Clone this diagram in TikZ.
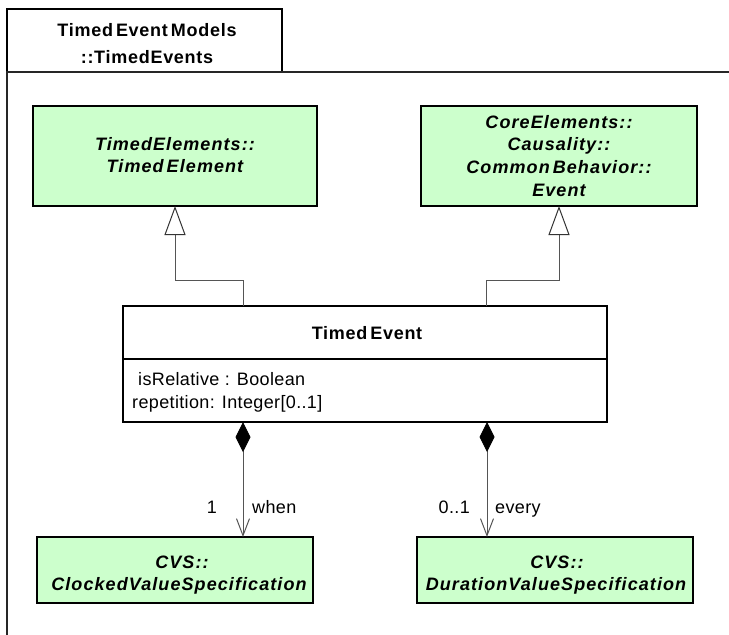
\documentclass[tikz,border=0pt]{standalone}
\usepackage{fontspec}
\setmainfont{Liberation Sans}[UprightFeatures={LetterSpace=2}, BoldFeatures={LetterSpace=4}, BoldItalicFeatures={LetterSpace=6}]
\usetikzlibrary{arrows.meta,calc}
\definecolor{umlgreen}{HTML}{CCFFCC}
\definecolor{conn}{HTML}{555555}
\begin{document}
\begin{tikzpicture}[x=1pt,y=-1pt,
  box/.style={draw=black, line width=1.2pt, inner sep=0pt, outer sep=0pt},
  clsbox/.style={box, fill=umlgreen},
  pkgline/.style={draw=black!85, line width=1.2pt},
  txt/.style={inner sep=0pt, font=\fontsize{18}{22}\selectfont},
  bi/.style={txt, font=\fontsize{18}{22}\selectfont\bfseries\itshape},
  bd/.style={txt, font=\fontsize{18}{22}\selectfont\bfseries},
  gen/.style={draw=conn, line width=1pt, -{Triangle[open, length=29pt, width=21pt, fill=white, color=black!80]}},
  comp/.style={draw=conn, line width=1pt, {Diamond[length=30pt, width=15pt, color=black, fill=black]}-{Straight Barb[length=17pt, width=13pt]}}
]
\useasboundingbox (0,0) rectangle (729,635);

% package frame
\node[box, fill=white, minimum width=275pt, minimum height=63pt] (tab) at (144.5,40.5) {};
\coordinate (pr) at (730,72);
\coordinate (pb) at (7,636);
\draw[pkgline] (pr) -- (tab.south west) -- (pb);
\node[bd, anchor=base] (tab1) at (147,36) {Timed\,Event\,Models};
\node[bd, anchor=base] (tab2) at (147,63) {::TimedEvents};

% classes
\node[clsbox, minimum width=284pt, minimum height=100pt] (te) at (175,156) {};
\node[bi, anchor=base] (te1) at (175,150) {TimedElements::};
\node[bi, anchor=base] (te2) at (175,172.5) {Timed\,Element};

\node[clsbox, minimum width=276pt, minimum height=100pt] (ev) at (559,156) {};
\node[bi, anchor=base] (ev1) at (559,128) {CoreElements::};
\node[bi, anchor=base] (ev2) at (559,150.5) {Causality::};
\node[bi, anchor=base] (ev3) at (559,173) {Common\,Behavior::};
\node[bi, anchor=base] (ev4) at (559,196.5) {Event};

\node[box, fill=white, minimum width=484pt, minimum height=116pt] (tev) at (365,364) {};
\draw[box] ([yshift=-53pt]tev.north west) -- ([yshift=-53pt]tev.north east);
\node[bd, anchor=base] (tevT) at (367,339) {Timed\,Event};
\node[txt, anchor=base west] (at1) at (138,385) {isRelative : Boolean};
\node[txt, anchor=base west] (at2) at (132,408) {repetition: Integer[0..1]};

\node[clsbox, minimum width=276pt, minimum height=66pt] (c1) at (175,570) {};
\node[bi, anchor=base] (c1a) at (182,568) {CVS::};
\node[bi, anchor=base] (c1b) at (179,590) {ClockedValueSpecification};

\node[clsbox, minimum width=276pt, minimum height=66pt] (c2) at (555,570) {};
\node[bi, anchor=base] (c2a) at (557,568) {CVS::};
\node[bi, anchor=base] (c2b) at (556,590) {DurationValueSpecification};

% generalizations
\draw[gen] ([xshift=-122pt]tev.north) -- ++(0,-26) -| (te.south);
\draw[gen] ([xshift=121pt]tev.north) -- ++(0,-26) -| (ev.south);

% compositions
\draw[comp] ([xshift=-122pt]tev.south) -- ([xshift=68pt]c1.north);
\draw[comp] ([xshift=122pt]tev.south) -- ([xshift=-68pt]c2.north);

\node[txt, anchor=base] (m1) at (212,513) {1};
\node[txt, anchor=base west] (r1) at (252,513) {when};
\node[txt, anchor=base east] (m2) at (470,513) {0..1};
\node[txt, anchor=base west] (r2) at (495,513) {every};
\end{tikzpicture}
\end{document}
